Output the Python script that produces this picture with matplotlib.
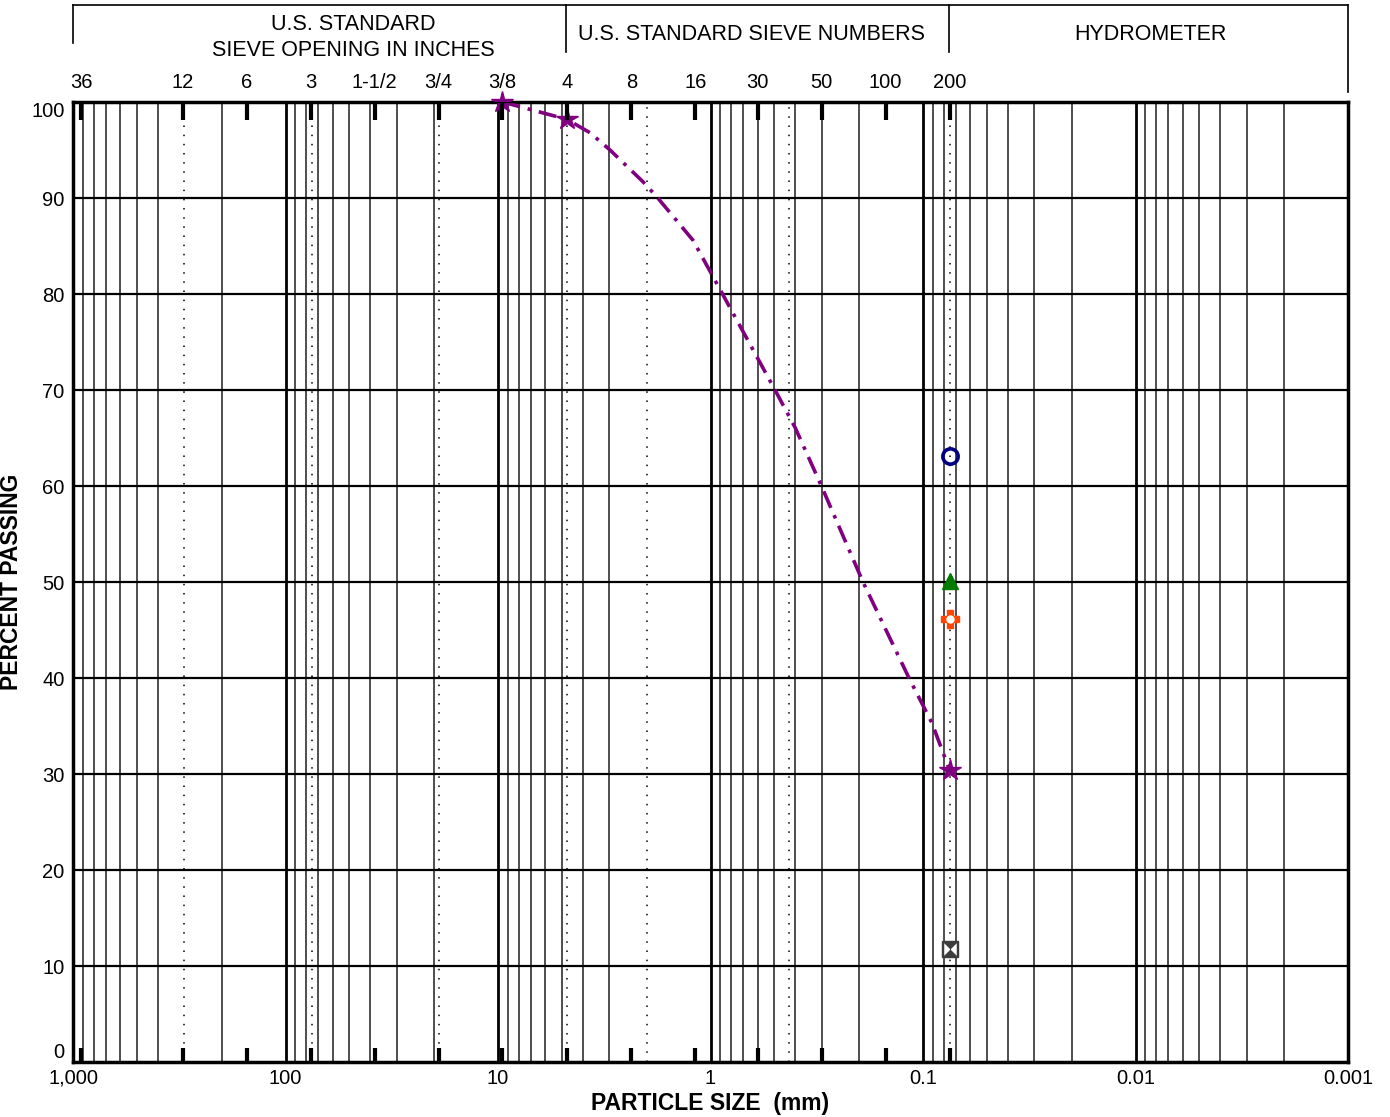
import matplotlib
matplotlib.use('Agg')
import matplotlib.pyplot as plt
from matplotlib.lines import Line2D
from matplotlib.path import Path
from matplotlib.ticker import FixedLocator, NullFormatter

plt.rcParams['font.family'] = ['Liberation Sans', 'DejaVu Sans']

# sieve sizes shown along the top
sieve_labels = ['36', '12', '6', '3', '1-1/2', '3/4', '3/8', '4', '8', '16', '30', '50', '100', '200']
sieve_mm = [914.4, 304.8, 152.4, 76.2, 38.1, 19.05, 9.525, 4.75, 2.36, 1.18, 0.6, 0.3, 0.15, 0.075]

# soil class boundaries (dotted lines)
boundary_mm = [300, 75, 19, 4.75, 2.0, 0.425, 0.075]

# sieve test points
test_size = [9.525, 4.75, 0.075]
test_pct = [100, 98.2, 30.4]

# gradation curve
curve_size = [9.525, 4.75, 3.69, 2.97, 2.08, 1.786, 1.209, 0.883, 0.497, 0.40, 0.302, 0.1916, 0.1164, 0.0907, 0.075]
curve_pct = [100, 98.2, 96.8, 95.0, 91.7, 90.1, 85.6, 80.1, 70, 66.1, 60.1, 50, 40, 35.3, 30.4]

# other samples passing #200
fines_size = 0.075
circle_pct = 63.1
triangle_pct = 50.1
plus_pct = 46.1
square_pct = 11.8

xticks = [1000, 100, 10, 1, 0.1, 0.01, 0.001]
xticklabels = ['1,000', '100', '10', '1', '0.1', '0.01', '0.001']
yticks = list(range(0, 101, 10))

fig = plt.figure(figsize=(13.9, 11.17), dpi=100)
ax = fig.add_axes([73 / 1390, 1 - 1062 / 1117, 1275 / 1390, 960 / 1117])
ax.set_xscale('log')
ax.set_xlim(1000, 0.001)
ax.set_ylim(0, 100)

# vertical grid
for dec in [100, 10, 1, 0.1, 0.01, 0.001]:
    for m in range(2, 10):
        v = dec * m
        if any(abs(v - b) / b < 0.01 for b in boundary_mm):
            continue
        ax.axvline(v, color='#303030', lw=1.2, zorder=1)
for d in xticks[1:-1]:
    ax.axvline(d, color='black', lw=2, zorder=1)
for b in boundary_mm:
    ax.axvline(b, color='black', lw=1.1, ls=(0, (1, 5)), zorder=1)
for y in yticks[1:-1]:
    ax.axhline(y, color='black', lw=1.6, zorder=1)

ax.set_xticks(xticks)
ax.set_xticklabels(xticklabels, fontsize=14.5)
ax.xaxis.set_minor_locator(FixedLocator(sieve_mm))
ax.xaxis.set_minor_formatter(NullFormatter())
ax.tick_params(axis='x', which='major', length=0, pad=5)
ax.tick_params(axis='x', which='minor', direction='in', length=10, width=3, color='black')
ax.set_yticks(yticks)
ax.set_yticklabels([str(v) for v in yticks])
ax.tick_params(axis='y', length=0, labelsize=14.5, pad=6)
ylabs = ax.get_yticklabels()
ylabs[0].set_va('bottom')
ylabs[-1].set_va('top')

ax.set_xlabel('PARTICLE SIZE  (mm)', fontsize=16.5, fontweight='bold', labelpad=3)
ax.set_ylabel('PERCENT PASSING', fontsize=16.5, fontweight='bold', labelpad=6)

for s in ax.spines.values():
    s.set_linewidth(2.5)

# top axis with sieve numbers
top = ax.twiny()
top.set_xscale('log')
top.set_xlim(ax.get_xlim())
top.xaxis.set_major_locator(FixedLocator(sieve_mm))
top.xaxis.set_minor_locator(FixedLocator([]))
top.set_xticklabels(sieve_labels, fontsize=14.5)
top.tick_params(axis='x', direction='in', length=13, width=3, pad=7, color='black')

# data
ax.plot(curve_size, curve_pct, color='#800080', lw=2.6, ls=(0, (5, 2.2, 1, 2.2)), zorder=3)
ax.plot(test_size, test_pct, ls='none', marker='*', ms=16, color='#800080', zorder=4, clip_on=False)
ax.plot([fines_size], [circle_pct], ls='none', marker='o', ms=11, mfc='none', mec='#000080', mew=2.6, zorder=4)
ax.plot([fines_size], [triangle_pct], ls='none', marker='^', ms=11, color='#007a00', zorder=4)
ax.plot([fines_size], [plus_pct], ls='none', marker='P', ms=13, color='#ff4500', zorder=4)
ax.plot([fines_size], [plus_pct], ls='none', marker='o', ms=5, color='white', zorder=5)
ax.plot([fines_size], [square_pct], ls='none', marker='s', ms=12, color='#3c3c3c', zorder=4)
bowtie = Path([(-0.8, -0.8), (0, 0), (-0.8, 0.8), (-0.8, -0.8), (0.8, -0.8), (0, 0), (0.8, 0.8), (0.8, -0.8)],
              [Path.MOVETO, Path.LINETO, Path.LINETO, Path.CLOSEPOLY, Path.MOVETO, Path.LINETO, Path.LINETO, Path.CLOSEPOLY])
ax.plot([fines_size], [square_pct], ls='none', marker=bowtie, ms=9, color='white', mew=0, zorder=5)

# header box
W, H = 1390, 1117
def fline(x0, y0, x1, y1):
    fig.add_artist(Line2D([x0 / W, x1 / W], [1 - y0 / H, 1 - y1 / H], color='black', lw=1.2))

fline(73, 5, 1348, 5)
fline(73, 5, 73, 43)
fline(566, 5, 566, 52)
fline(949, 5, 949, 52)
fline(1348, 5, 1348, 92)

fig.text(353 / W, 1 - 24 / H, 'U.S. STANDARD', ha='center', va='center', fontsize=15.5)
fig.text(353 / W, 1 - 50 / H, 'SIEVE OPENING IN INCHES', ha='center', va='center', fontsize=15.5)
fig.text(751 / W, 1 - 34 / H, 'U.S. STANDARD SIEVE NUMBERS', ha='center', va='center', fontsize=15.5)
fig.text(1150 / W, 1 - 34 / H, 'HYDROMETER', ha='center', va='center', fontsize=15.5)

plt.savefig('out.png', dpi=100)
